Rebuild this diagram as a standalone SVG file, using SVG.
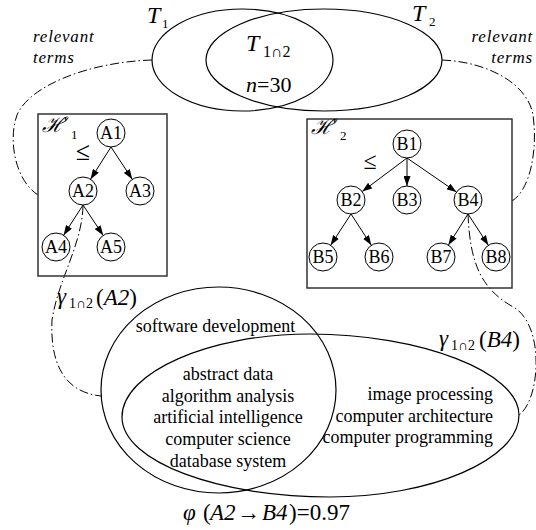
<svg xmlns="http://www.w3.org/2000/svg" width="536" height="530" viewBox="0 0 536 530">
<style>
.rm{font-family:"Liberation Serif","Times New Roman",serif;fill:#000}
.it{font-family:"Liberation Serif","Times New Roman",serif;font-style:italic;fill:#000}
.scr{font-family:"DejaVu Serif","Liberation Serif",serif;font-style:italic;fill:#000}
.set{fill:none;stroke:#000;stroke-width:1.2}
.box{fill:none;stroke:#333;stroke-width:1.5}
.nd circle{fill:#fff;stroke:#000;stroke-width:1}
.nd text{font-family:"Liberation Serif","Times New Roman",serif;font-size:18px;text-anchor:middle}
.edge{stroke:#000;stroke-width:1;fill:none;marker-end:url(#ah)}
.dd{fill:none;stroke:#000;stroke-width:1;stroke-dasharray:9 3 1.5 3}
.term{font-family:"Liberation Serif","Times New Roman",serif;font-size:18px}
</style>
<defs>
<marker id="ah" markerUnits="userSpaceOnUse" markerWidth="10" markerHeight="7" refX="10" refY="3.5" orient="auto">
<path d="M0,0 L10,3.5 L0,7 z" fill="#000"/>
</marker>
</defs>
<rect width="536" height="530" fill="#fff"/>

<g id="connectors">
<path class="dd" d="M152,60 C90,62 30,85 17,115 C8,140 15,180 38,195"/>
<path class="dd" d="M442,60 C490,62 528,85 533,115 C538,150 530,190 512,201"/>
<path class="dd" d="M83,206 C82,245 58,280 52,320 C50,360 62,392 101,396"/>
<path class="dd" d="M468,214 C470,265 482,290 515,308 C545,328 540,400 519,415"/>
<line class="edge" x1="111" y1="147" x2="90.5" y2="179.2"/>
<line class="edge" x1="111" y1="147" x2="132.3" y2="179.3"/>
<line class="edge" x1="83" y1="205" x2="63.6" y2="235.2"/>
<line class="edge" x1="83" y1="205" x2="103.2" y2="235.4"/>
<line class="edge" x1="407" y1="158" x2="362.2" y2="191.6"/>
<line class="edge" x1="407" y1="158" x2="407" y2="186"/>
<line class="edge" x1="407" y1="158" x2="456.5" y2="192.1"/>
<line class="edge" x1="351" y1="214" x2="330.6" y2="245.3"/>
<line class="edge" x1="351" y1="214" x2="371.4" y2="245.3"/>
<line class="edge" x1="468" y1="214" x2="448.4" y2="245.1"/>
<line class="edge" x1="468" y1="214" x2="488.4" y2="245.3"/>
</g>

<g id="set-T1">
<ellipse class="set" cx="242.5" cy="60" rx="90.5" ry="51"/>
<text class="it" x="147" y="23" font-size="24">T</text>
<text class="rm" x="162" y="28" font-size="13">1</text>
</g>
<g id="set-T2">
<ellipse class="set" cx="324" cy="60" rx="118" ry="51"/>
<text class="it" x="412" y="21" font-size="24">T</text>
<text class="rm" x="429" y="26" font-size="13">2</text>
</g>
<g id="set-T12">
<text class="it" x="246" y="51" font-size="24">T</text>
<text class="rm" x="263" y="57" font-size="16">1∩2</text>
<text class="rm" x="246" y="92" font-size="22"><tspan class="it">n</tspan>=30</text>
</g>

<g id="label-relevant-left">
<text class="it" x="33" y="42" font-size="17" letter-spacing="0.8">relevant</text>
<text class="it" x="33" y="63" font-size="17" letter-spacing="0.8">terms</text>
</g>
<g id="label-relevant-right">
<text class="it" x="533" y="42" font-size="17" letter-spacing="0.8" text-anchor="end">relevant</text>
<text class="it" x="533" y="63" font-size="17" letter-spacing="0.8" text-anchor="end">terms</text>
</g>

<g id="hier-H1">
<rect class="box" x="38" y="114" width="129" height="162"/>
<text class="scr" x="42" y="132" font-size="21">ℋ</text>
<text class="rm" x="64" y="130" font-size="18">'</text>
<text class="rm" x="71" y="139" font-size="13">1</text>
<text class="rm" x="83" y="160" font-size="26" text-anchor="middle">≤</text>
</g>
<g id="A1" class="nd"><circle cx="111" cy="133" r="14"/><text x="111" y="139">A1</text></g>
<g id="A2" class="nd"><circle cx="83" cy="191" r="14"/><text x="83" y="197">A2</text></g>
<g id="A3" class="nd"><circle cx="140" cy="191" r="14"/><text x="140" y="197">A3</text></g>
<g id="A4" class="nd"><circle cx="56" cy="247" r="14"/><text x="56" y="253">A4</text></g>
<g id="A5" class="nd"><circle cx="111" cy="247" r="14"/><text x="111" y="253">A5</text></g>

<g id="hier-H2">
<rect class="box" x="307" y="119" width="205" height="169"/>
<text class="scr" x="311" y="134" font-size="21">ℋ</text>
<text class="rm" x="333" y="132" font-size="18">'</text>
<text class="rm" x="340" y="140" font-size="13">2</text>
<text class="rm" x="370" y="169" font-size="24" text-anchor="middle">≤</text>
</g>
<g id="B1" class="nd"><circle cx="407" cy="144" r="14"/><text x="407" y="150">B1</text></g>
<g id="B2" class="nd"><circle cx="351" cy="200" r="14"/><text x="351" y="206">B2</text></g>
<g id="B3" class="nd"><circle cx="407" cy="200" r="14"/><text x="407" y="206">B3</text></g>
<g id="B4" class="nd"><circle cx="468" cy="200" r="14"/><text x="468" y="206">B4</text></g>
<g id="B5" class="nd"><circle cx="323" cy="257" r="14"/><text x="323" y="263">B5</text></g>
<g id="B6" class="nd"><circle cx="379" cy="257" r="14"/><text x="379" y="263">B6</text></g>
<g id="B7" class="nd"><circle cx="441" cy="257" r="14"/><text x="441" y="263">B7</text></g>
<g id="B8" class="nd"><circle cx="496" cy="257" r="14"/><text x="496" y="263">B8</text></g>

<g id="gamma-A2">
<ellipse class="set" cx="218.5" cy="390" rx="117.5" ry="103"/>
<text class="it" x="57" y="304" font-size="23">γ</text>
<text class="rm" x="69" y="308" font-size="14">1∩2</text>
<text class="rm" x="96" y="305" font-size="23">(<tspan class="it">A2</tspan>)</text>
<text class="term" x="215.5" y="332" text-anchor="middle">software development</text>
</g>
<g id="gamma-B4">
<path class="set" d="M122,417 C122,372 210,334 310,334 C420,334 519,372 519,415 C519,460 430,497 330,497 C220,497 122,462 122,417 Z"/>
<text class="it" x="439" y="346" font-size="23">γ</text>
<text class="rm" x="451" y="350" font-size="14">1∩2</text>
<text class="rm" x="479" y="347" font-size="23">(<tspan class="it">B4</tspan>)</text>
<text class="term" x="493" y="400" text-anchor="end">image processing</text>
<text class="term" x="493" y="422" text-anchor="end">computer architecture</text>
<text class="term" x="493" y="443" text-anchor="end">computer programming</text>
</g>
<g id="intersection-terms">
<text class="term" x="228" y="380" text-anchor="middle">abstract data</text>
<text class="term" x="228" y="402" text-anchor="middle">algorithm analysis</text>
<text class="term" x="228" y="423" text-anchor="middle">artificial intelligence</text>
<text class="term" x="228" y="445" text-anchor="middle">computer science</text>
<text class="term" x="228" y="467" text-anchor="middle">database system</text>
</g>

<g id="similarity">
<text class="rm" y="520" font-size="23"><tspan class="it" x="183">φ</tspan><tspan x="203">(</tspan><tspan class="it" x="210">A2</tspan><tspan x="237">→</tspan><tspan class="it" x="262">B4</tspan><tspan x="289">)=0.97</tspan></text>
</g>
</svg>
